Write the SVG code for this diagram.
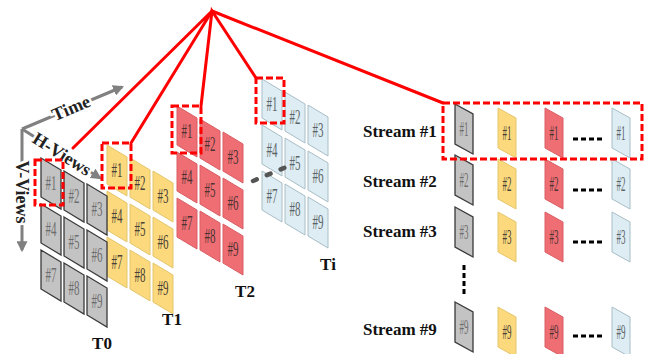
<svg xmlns="http://www.w3.org/2000/svg" xmlns:xlink="http://www.w3.org/1999/xlink" width="646" height="354" viewBox="0 0 646 354">
<style>
.g{fill:#c3c3c3;stroke:#3a3a3a;stroke-width:1.3}
.y{fill:#fbd97c;stroke:#e3c66c;stroke-width:1}
.r{fill:#ef6e74;stroke:#d95e64;stroke-width:1}
.b{fill:#ddedf3;stroke:#a8bdc6;stroke-width:1}
.n{font-family:"Liberation Serif",serif;font-size:20px;text-anchor:middle}
.ng{fill:#6e6e6e}.ny{fill:#4a4236}.nr{fill:#4e3232}.nb{fill:#5c6468}
.lab{font-family:"Liberation Serif",serif;font-weight:bold;font-size:17px;fill:#111}
.mid{text-anchor:middle}
.ax{font-family:"Liberation Serif",serif;font-weight:bold;font-size:18px;fill:#222;stroke:#fff;stroke-width:5;paint-order:stroke;text-anchor:middle}
.sel{fill:none;stroke:#f00;stroke-width:3;stroke-dasharray:7 3}
.con{fill:none;stroke:#f00;stroke-width:3;stroke-linecap:round}
.axis{stroke:#808080;stroke-width:3;fill:none}
.dots{stroke:#000;stroke-width:3;stroke-dasharray:5 3;fill:none}
</style>
<defs>
<path id="gt" d="M0,0 L20,12 L20,51 L0,39 Z"/>
<path id="st" d="M0,0 L18,10 L18,50 L0,40 Z"/>
<marker id="ah" viewBox="0 0 10 10" refX="8" refY="5" markerWidth="11" markerHeight="11" markerUnits="userSpaceOnUse" orient="auto">
<path d="M0,0 L10,5 L0,10 Z" fill="#808080"/>
</marker>
</defs>

<g id="axes">
<line class="axis" x1="22" y1="129" x2="22" y2="250" marker-end="url(#ah)"/>
<line class="axis" x1="22" y1="129" x2="122" y2="87" marker-end="url(#ah)"/>
<line class="axis" x1="22" y1="129" x2="100" y2="178" marker-end="url(#ah)"/>
<text class="ax" transform="translate(71,108) rotate(-23)" y="6">Time</text>
<text class="ax" transform="translate(62,154) rotate(32)" y="6">H-Views</text>
<text class="ax" transform="translate(22,192) rotate(90)" y="6">V-Views</text>
</g>

<g id="Ti">
<use xlink:href="#gt" x="262" y="79" class="b"/><use xlink:href="#gt" x="285" y="92" class="b"/><use xlink:href="#gt" x="308" y="105" class="b"/>
<use xlink:href="#gt" x="262" y="125" class="b"/><use xlink:href="#gt" x="285" y="138" class="b"/><use xlink:href="#gt" x="308" y="151" class="b"/>
<use xlink:href="#gt" x="262" y="171" class="b"/><use xlink:href="#gt" x="285" y="184" class="b"/><use xlink:href="#gt" x="308" y="197" class="b"/>
<text class="n nb" x="272" y="111" textLength="11" lengthAdjust="spacingAndGlyphs">#1</text>
<text class="n nb" x="295" y="124" textLength="11" lengthAdjust="spacingAndGlyphs">#2</text>
<text class="n nb" x="318" y="137" textLength="11" lengthAdjust="spacingAndGlyphs">#3</text>
<text class="n nb" x="272" y="157" textLength="11" lengthAdjust="spacingAndGlyphs">#4</text>
<text class="n nb" x="295" y="170" textLength="11" lengthAdjust="spacingAndGlyphs">#5</text>
<text class="n nb" x="318" y="183" textLength="11" lengthAdjust="spacingAndGlyphs">#6</text>
<text class="n nb" x="272" y="203" textLength="11" lengthAdjust="spacingAndGlyphs">#7</text>
<text class="n nb" x="295" y="216" textLength="11" lengthAdjust="spacingAndGlyphs">#8</text>
<text class="n nb" x="318" y="229" textLength="11" lengthAdjust="spacingAndGlyphs">#9</text>
<text class="lab mid" x="328" y="270">Ti</text>
</g>

<g id="T2">
<use xlink:href="#gt" x="177" y="106" class="r"/><use xlink:href="#gt" x="200" y="119" class="r"/><use xlink:href="#gt" x="223" y="132" class="r"/>
<use xlink:href="#gt" x="177" y="152" class="r"/><use xlink:href="#gt" x="200" y="165" class="r"/><use xlink:href="#gt" x="223" y="178" class="r"/>
<use xlink:href="#gt" x="177" y="198" class="r"/><use xlink:href="#gt" x="200" y="211" class="r"/><use xlink:href="#gt" x="223" y="224" class="r"/>
<text class="n nr" x="187" y="138" textLength="11" lengthAdjust="spacingAndGlyphs">#1</text>
<text class="n nr" x="210" y="151" textLength="11" lengthAdjust="spacingAndGlyphs">#2</text>
<text class="n nr" x="233" y="164" textLength="11" lengthAdjust="spacingAndGlyphs">#3</text>
<text class="n nr" x="187" y="184" textLength="11" lengthAdjust="spacingAndGlyphs">#4</text>
<text class="n nr" x="210" y="197" textLength="11" lengthAdjust="spacingAndGlyphs">#5</text>
<text class="n nr" x="233" y="210" textLength="11" lengthAdjust="spacingAndGlyphs">#6</text>
<text class="n nr" x="187" y="230" textLength="11" lengthAdjust="spacingAndGlyphs">#7</text>
<text class="n nr" x="210" y="243" textLength="11" lengthAdjust="spacingAndGlyphs">#8</text>
<text class="n nr" x="233" y="256" textLength="11" lengthAdjust="spacingAndGlyphs">#9</text>
<text class="lab mid" x="245" y="297">T2</text>
</g>

<g id="T1">
<use xlink:href="#gt" x="107" y="145" class="y"/><use xlink:href="#gt" x="130" y="158" class="y"/><use xlink:href="#gt" x="153" y="171" class="y"/>
<use xlink:href="#gt" x="107" y="191" class="y"/><use xlink:href="#gt" x="130" y="204" class="y"/><use xlink:href="#gt" x="153" y="217" class="y"/>
<use xlink:href="#gt" x="107" y="237" class="y"/><use xlink:href="#gt" x="130" y="250" class="y"/><use xlink:href="#gt" x="153" y="263" class="y"/>
<text class="n ny" x="117" y="177" textLength="11" lengthAdjust="spacingAndGlyphs">#1</text>
<text class="n ny" x="140" y="190" textLength="11" lengthAdjust="spacingAndGlyphs">#2</text>
<text class="n ny" x="163" y="203" textLength="11" lengthAdjust="spacingAndGlyphs">#3</text>
<text class="n ny" x="117" y="223" textLength="11" lengthAdjust="spacingAndGlyphs">#4</text>
<text class="n ny" x="140" y="236" textLength="11" lengthAdjust="spacingAndGlyphs">#5</text>
<text class="n ny" x="163" y="249" textLength="11" lengthAdjust="spacingAndGlyphs">#6</text>
<text class="n ny" x="117" y="269" textLength="11" lengthAdjust="spacingAndGlyphs">#7</text>
<text class="n ny" x="140" y="282" textLength="11" lengthAdjust="spacingAndGlyphs">#8</text>
<text class="n ny" x="163" y="295" textLength="11" lengthAdjust="spacingAndGlyphs">#9</text>
<text class="lab mid" x="172" y="325">T1</text>
</g>

<g id="T0">
<use xlink:href="#gt" x="41" y="158" class="g"/><use xlink:href="#gt" x="64" y="171" class="g"/><use xlink:href="#gt" x="87" y="184" class="g"/>
<use xlink:href="#gt" x="41" y="204" class="g"/><use xlink:href="#gt" x="64" y="217" class="g"/><use xlink:href="#gt" x="87" y="230" class="g"/>
<use xlink:href="#gt" x="41" y="250" class="g"/><use xlink:href="#gt" x="64" y="263" class="g"/><use xlink:href="#gt" x="87" y="276" class="g"/>
<text class="n ng" x="51" y="190" textLength="11" lengthAdjust="spacingAndGlyphs">#1</text>
<text class="n ng" x="74" y="203" textLength="11" lengthAdjust="spacingAndGlyphs">#2</text>
<text class="n ng" x="97" y="216" textLength="11" lengthAdjust="spacingAndGlyphs">#3</text>
<text class="n ng" x="51" y="236" textLength="11" lengthAdjust="spacingAndGlyphs">#4</text>
<text class="n ng" x="74" y="249" textLength="11" lengthAdjust="spacingAndGlyphs">#5</text>
<text class="n ng" x="97" y="262" textLength="11" lengthAdjust="spacingAndGlyphs">#6</text>
<text class="n ng" x="51" y="282" textLength="11" lengthAdjust="spacingAndGlyphs">#7</text>
<text class="n ng" x="74" y="295" textLength="11" lengthAdjust="spacingAndGlyphs">#8</text>
<text class="n ng" x="97" y="308" textLength="11" lengthAdjust="spacingAndGlyphs">#9</text>
<text class="lab mid" x="102" y="349">T0</text>
</g>

<g id="gap-dashes">
<line x1="253" y1="181" x2="291" y2="165" stroke="#555" stroke-width="4.5" stroke-linecap="round" stroke-dasharray="4 11"/>
</g>

<g id="stream1">
<text class="lab" x="363" y="137">Stream #1</text>
<use xlink:href="#st" x="455" y="104" class="g"/><use xlink:href="#st" x="498" y="108" class="y"/><use xlink:href="#st" x="545" y="108" class="r"/><use xlink:href="#st" x="612" y="108" class="b"/>
<text class="n ng" x="464" y="136" textLength="9" lengthAdjust="spacingAndGlyphs">#1</text>
<text class="n ny" x="507" y="140" textLength="9" lengthAdjust="spacingAndGlyphs">#1</text>
<text class="n nr" x="554" y="140" textLength="9" lengthAdjust="spacingAndGlyphs">#1</text>
<text class="n nb" x="621" y="140" textLength="9" lengthAdjust="spacingAndGlyphs">#1</text>
<line class="dots" x1="573" y1="139" x2="602" y2="139"/>
</g>
<g id="stream2">
<text class="lab" x="363" y="187">Stream #2</text>
<use xlink:href="#st" x="455" y="155" class="g"/><use xlink:href="#st" x="498" y="159" class="y"/><use xlink:href="#st" x="545" y="159" class="r"/><use xlink:href="#st" x="612" y="159" class="b"/>
<text class="n ng" x="464" y="187" textLength="9" lengthAdjust="spacingAndGlyphs">#2</text>
<text class="n ny" x="507" y="191" textLength="9" lengthAdjust="spacingAndGlyphs">#2</text>
<text class="n nr" x="554" y="191" textLength="9" lengthAdjust="spacingAndGlyphs">#2</text>
<text class="n nb" x="621" y="191" textLength="9" lengthAdjust="spacingAndGlyphs">#2</text>
<line class="dots" x1="573" y1="190" x2="602" y2="190"/>
</g>
<g id="stream3">
<text class="lab" x="363" y="237">Stream #3</text>
<use xlink:href="#st" x="455" y="207" class="g"/><use xlink:href="#st" x="498" y="212" class="y"/><use xlink:href="#st" x="545" y="212" class="r"/><use xlink:href="#st" x="612" y="212" class="b"/>
<text class="n ng" x="464" y="239" textLength="9" lengthAdjust="spacingAndGlyphs">#3</text>
<text class="n ny" x="507" y="244" textLength="9" lengthAdjust="spacingAndGlyphs">#3</text>
<text class="n nr" x="554" y="244" textLength="9" lengthAdjust="spacingAndGlyphs">#3</text>
<text class="n nb" x="621" y="244" textLength="9" lengthAdjust="spacingAndGlyphs">#3</text>
<line class="dots" x1="573" y1="242" x2="602" y2="242"/>
</g>
<g id="vdots">
<line class="dots" x1="464" y1="265" x2="464" y2="294"/>
</g>
<g id="stream9">
<text class="lab" x="363" y="335">Stream #9</text>
<use xlink:href="#st" x="455" y="302" class="g"/><use xlink:href="#st" x="498" y="307" class="y"/><use xlink:href="#st" x="545" y="307" class="r"/><use xlink:href="#st" x="612" y="307" class="b"/>
<text class="n ng" x="464" y="334" textLength="9" lengthAdjust="spacingAndGlyphs">#9</text>
<text class="n ny" x="507" y="339" textLength="9" lengthAdjust="spacingAndGlyphs">#9</text>
<text class="n nr" x="554" y="339" textLength="9" lengthAdjust="spacingAndGlyphs">#9</text>
<text class="n nb" x="621" y="339" textLength="9" lengthAdjust="spacingAndGlyphs">#9</text>
<line class="dots" x1="573" y1="336" x2="602" y2="336"/>
</g>

<g id="selections">
<rect class="sel" x="35" y="160" width="28" height="45"/>
<rect class="sel" x="102" y="143" width="29" height="45"/>
<rect class="sel" x="172" y="106" width="29" height="47"/>
<rect class="sel" x="256" y="78" width="28" height="45"/>
<rect class="sel" x="443" y="103" width="199" height="56"/>
</g>

<g id="connectors">
<polyline class="con" points="73,148 212,11 131,143"/>
<polyline class="con" points="201,106 212,11 256,78"/>
<polyline class="con" points="212,11 443,103"/>
</g>
</svg>
